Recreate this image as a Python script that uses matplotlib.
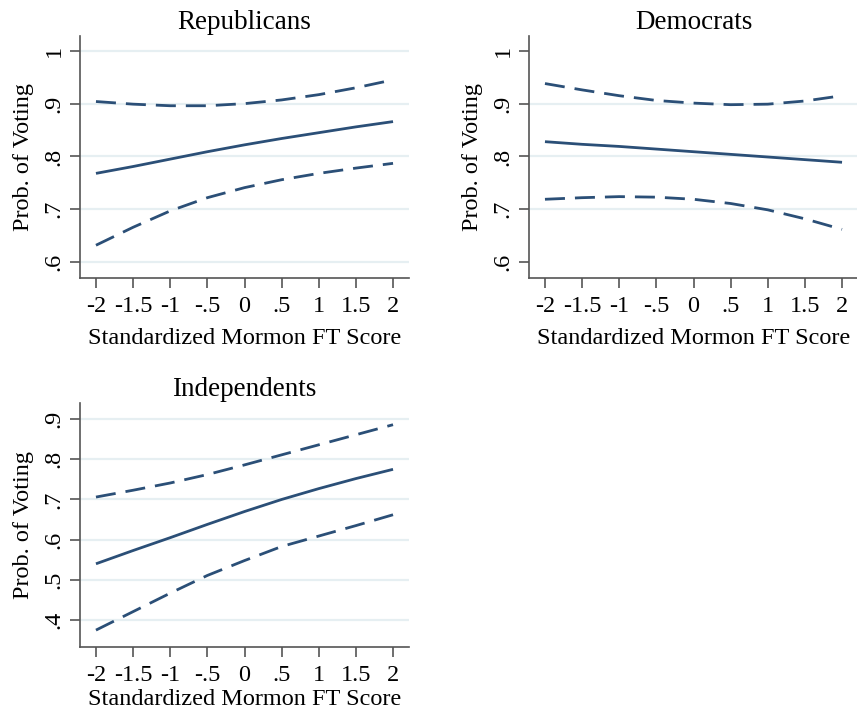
import matplotlib
matplotlib.use("Agg")
import matplotlib.pyplot as plt

x = [-2, -1.5, -1, -0.5, 0, 0.5, 1, 1.5, 2]
x_ticks = [-2, -1.5, -1, -0.5, 0, 0.5, 1, 1.5, 2]
x_ticklabels = ["-2", "-1.5", "-1", "-.5", "0", ".5", "1", "1.5", "2"]

rep_mean = [0.768, 0.781, 0.795, 0.809, 0.822, 0.834, 0.845, 0.856, 0.866]
rep_upper = [0.904, 0.899, 0.896, 0.896, 0.900, 0.907, 0.917, 0.930, 0.945]
rep_lower = [0.632, 0.666, 0.697, 0.722, 0.741, 0.756, 0.768, 0.778, 0.787]

dem_mean = [0.828, 0.823, 0.819, 0.814, 0.809, 0.804, 0.799, 0.794, 0.789]
dem_upper = [0.938, 0.926, 0.915, 0.906, 0.901, 0.898, 0.899, 0.905, 0.915]
dem_lower = [0.719, 0.722, 0.724, 0.723, 0.719, 0.711, 0.699, 0.682, 0.662]

ind_mean = [0.540, 0.573, 0.605, 0.638, 0.670, 0.700, 0.727, 0.752, 0.775]
ind_upper = [0.706, 0.723, 0.741, 0.762, 0.786, 0.811, 0.836, 0.861, 0.886]
ind_lower = [0.375, 0.421, 0.467, 0.511, 0.548, 0.583, 0.609, 0.635, 0.662]

top_yticks = [0.6, 0.7, 0.8, 0.9, 1.0]
top_yticklabels = [".6", ".7", ".8", ".9", "1"]
ind_yticks = [0.4, 0.5, 0.6, 0.7, 0.8, 0.9]
ind_yticklabels = [".4", ".5", ".6", ".7", ".8", ".9"]

titles = ["Republicans", "Democrats", "Independents"]
xlabel = "Standardized Mormon FT Score"
ylabel = "Prob. of Voting"

plt.rcParams['font.family'] = ['Liberation Serif', 'DejaVu Serif']

W, H = 857, 709
fig = plt.figure(figsize=(W / 100, H / 100), dpi=100)

def box(l, r, t, b):
    return [l / W, (H - b) / H, (r - l) / W, (b - t) / H]

line_color = "#2b4f77"
grid_color = "#e6eff2"
spine_color = "#555555"
fs = 17.5

def make(pos, title, mean, upper, lower, yticks, yticklabels, ylim, grid_vals, xlabelpad):
    ax = fig.add_axes(pos)
    ax.set_xlim(-2.215, 2.215)
    ax.set_ylim(*ylim)
    for g in grid_vals:
        ax.axhline(g, color=grid_color, lw=1.6, zorder=0)
    ax.plot(x, mean, color=line_color, lw=2.0, solid_capstyle='butt')
    ax.plot(x, upper, color=line_color, lw=2.0, dashes=(7.2, 3.6))
    ax.plot(x, lower, color=line_color, lw=2.0, dashes=(7.2, 3.6))
    for s in ["top", "right"]:
        ax.spines[s].set_visible(False)
    for s in ["left", "bottom"]:
        ax.spines[s].set_color(spine_color)
        ax.spines[s].set_linewidth(1.2)
    ax.set_xticks(x_ticks)
    ax.set_xticklabels(x_ticklabels, fontsize=fs)
    ax.set_yticks(yticks)
    ax.set_yticklabels(yticklabels, fontsize=fs, rotation=90, va='center')
    ax.tick_params(axis='both', direction='out', length=7, width=1.2, color=spine_color, pad=4)
    ax.tick_params(axis='x', pad=6)
    ax.set_xlabel(xlabel, fontsize=fs, labelpad=xlabelpad)
    ax.set_ylabel(ylabel, fontsize=fs, labelpad=7)
    ax.set_title(title, fontsize=19.5, pad=5)
    ax.set_facecolor("none")
    return ax

make(box(80, 409, 36, 278), titles[0], rep_mean, rep_upper, rep_lower,
     top_yticks, top_yticklabels, (0.57, 1.028), top_yticks, 8)
make(box(529, 858, 36, 278), titles[1], dem_mean, dem_upper, dem_lower,
     top_yticks, top_yticklabels, (0.57, 1.028), [0.7, 0.8, 0.9], 8)
make(box(80, 409, 403, 647), titles[2], ind_mean, ind_upper, ind_lower,
     ind_yticks, ind_yticklabels, (0.333, 0.94), ind_yticks, 2)

fig.savefig("out.png", dpi=100)
